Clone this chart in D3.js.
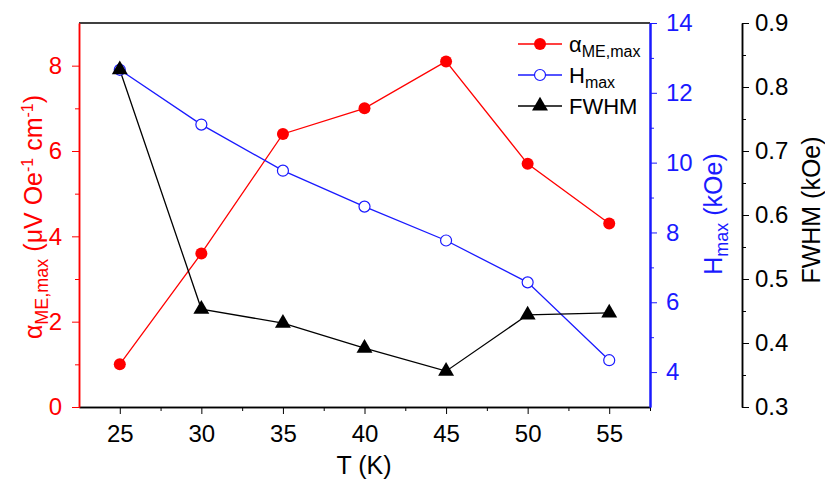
<!DOCTYPE html>
<html>
<head>
<meta charset="utf-8">
<script src="https://cdn.jsdelivr.net/npm/d3@7"></script>
<style>
  body { margin: 0; background: #fff; }
  svg text { font-family: "Liberation Sans", Arial, sans-serif; }
</style>
</head>
<body>
<svg id="chart" width="825" height="488"></svg>
<script>
// data
var temps = [25, 30, 35, 40, 45, 50, 55];
var alphaMax = [1.0, 3.6, 6.4, 7.0, 8.1, 5.7, 4.3];
var hMax = [12.66, 11.09, 9.77, 8.74, 7.77, 6.57, 4.34];
var fwhm = [0.827, 0.453, 0.431, 0.392, 0.356, 0.444, 0.447];

var xTicks = [25, 30, 35, 40, 45, 50, 55];
var alphaTicks = [0, 2, 4, 6, 8];
var hTicks = [4, 6, 8, 10, 12, 14];
var fwhmTicks = [0.3, 0.4, 0.5, 0.6, 0.7, 0.8, 0.9];

var red = "#ff0000", blue = "#1a1aff";
// plot box (note: "top" is reserved on window)
var pLeft = 79, pRight = 650, pTop = 23, pBottom = 407;
var fwhmX = 742;
var fs = 24;      // tick labels
var fsTitle = 25; // axis titles
var fsLeg = 22;

var svg = d3.select("#chart");

var x = d3.scaleLinear().domain([22.5, 57.5]).range([pLeft, pRight]);
var yA = d3.scaleLinear().domain([0, 9]).range([pBottom, pTop]);
var yH = d3.scaleLinear().domain([3, 14]).range([pBottom, pTop]);
var yF = d3.scaleLinear().domain([0.3, 0.9]).range([pBottom, pTop]);

// minor ticks helper
function minorAxis(axis, scale, vals) {
  return axis(scale).tickValues(vals).tickSize(4).tickSizeOuter(0).tickFormat("");
}
function majorAxis(axis, scale, vals) {
  return axis(scale).tickValues(vals).tickSize(7).tickSizeOuter(0);
}

// top frame line
svg.append("line")
  .attr("x1", pLeft).attr("x2", pRight).attr("y1", pTop).attr("y2", pTop)
  .attr("stroke", "#000").attr("stroke-width", 1.5);

// x axis
var gx = svg.append("g").attr("transform", "translate(0," + pBottom + ")");
gx.call(minorAxis(d3.axisBottom, x, [27.5, 32.5, 37.5, 42.5, 47.5, 52.5, 57.5]));
gx.append("g").call(majorAxis(d3.axisBottom, x, xTicks).tickPadding(11));
gx.selectAll(".domain").attr("stroke-width", 1.5);
gx.selectAll("text").attr("font-size", fs).attr("fill", "#000");

// left axis (red)
var gA = svg.append("g").attr("transform", "translate(" + pLeft + ",0)");
gA.call(minorAxis(d3.axisLeft, yA, [1, 3, 5, 7]));
gA.append("g").call(majorAxis(d3.axisLeft, yA, alphaTicks).tickPadding(10));
gA.selectAll("path, line").attr("stroke", red);
gA.selectAll(".domain").attr("stroke-width", 1.5);
gA.selectAll("text").attr("font-size", fs).attr("fill", red);

// right axis (blue)
var gH = svg.append("g").attr("transform", "translate(" + pRight + ",0)");
gH.call(minorAxis(d3.axisRight, yH, [5, 7, 9, 11, 13]));
gH.append("g").call(majorAxis(d3.axisRight, yH, hTicks).tickPadding(9));
gH.selectAll("path, line").attr("stroke", blue);
gH.selectAll(".domain").attr("stroke-width", 2);
gH.selectAll("text").attr("font-size", fs).attr("fill", blue);

// offset right axis (FWHM)
var gF = svg.append("g").attr("transform", "translate(" + fwhmX + ",0)");
gF.call(minorAxis(d3.axisRight, yF, [0.35, 0.45, 0.55, 0.65, 0.75, 0.85]));
gF.append("g").call(majorAxis(d3.axisRight, yF, fwhmTicks).tickPadding(6).tickFormat(d3.format(".1f")));
gF.selectAll("path, line").attr("stroke", "#000");
gF.selectAll(".domain").attr("stroke-width", 1.5);
gF.selectAll("text").attr("font-size", fs).attr("fill", "#000");

// axis titles
svg.append("text")
  .attr("x", 364).attr("y", 474)
  .attr("text-anchor", "middle").attr("font-size", fsTitle)
  .text("T (K)");

var tA = svg.append("text")
  .attr("transform", "translate(42,217) rotate(-90)")
  .attr("text-anchor", "middle").attr("font-size", fsTitle).attr("fill", red);
tA.append("tspan").text("α");
tA.append("tspan").attr("font-size", 18).attr("dy", 6).text("ME,max");
tA.append("tspan").attr("dy", -6).text(" (μV Oe");
tA.append("tspan").attr("font-size", 16).attr("dy", -9).text("-1");
tA.append("tspan").attr("dy", 9).text(" cm");
tA.append("tspan").attr("font-size", 16).attr("dy", -9).text("-1");
tA.append("tspan").attr("dy", 9).text(")");

var tH = svg.append("text")
  .attr("transform", "translate(722,214) rotate(-90)")
  .attr("text-anchor", "middle").attr("font-size", fsTitle).attr("fill", blue);
tH.append("tspan").text("H");
tH.append("tspan").attr("font-size", 18).attr("dy", 6).text("max");
tH.append("tspan").attr("dy", -6).text(" (kOe)");

svg.append("text")
  .attr("transform", "translate(820,210) rotate(-90)")
  .attr("text-anchor", "middle").attr("font-size", fsTitle)
  .text("FWHM (kOe)");

// series
var series = [
  {vals: alphaMax, y: yA, color: red, marker: "dot"},
  {vals: hMax, y: yH, color: blue, marker: "open"},
  {vals: fwhm, y: yF, color: "#000", marker: "tri"}
];

function drawMarker(g, m, color) {
  if (m === "tri") {
    g.append("path").attr("d", d3.symbol().type(d3.symbolTriangle).size(110)())
      .attr("fill", color);
  } else {
    g.append("circle").attr("r", m === "open" ? 5.5 : 6)
      .attr("fill", m === "open" ? "#fff" : color)
      .attr("stroke", color).attr("stroke-width", m === "open" ? 1.2 : 0);
  }
}

series.forEach(function(s) {
  var line = d3.line().x(function(d, i) { return x(temps[i]); }).y(function(d) { return s.y(d); });
  svg.append("path").datum(s.vals)
    .attr("d", line).attr("fill", "none")
    .attr("stroke", s.color).attr("stroke-width", 1.3);
});
series.forEach(function(s) {
  s.vals.forEach(function(v, i) {
    var g = svg.append("g").attr("transform", "translate(" + x(temps[i]) + "," + s.y(v) + ")");
    drawMarker(g, s.marker, s.color);
  });
});

// legend
var legRows = [
  {marker: "dot", color: red, main: "α", sub: "ME,max"},
  {marker: "open", color: blue, main: "H", sub: "max"},
  {marker: "tri", color: "#000", main: "FWHM", sub: ""}
];
legRows.forEach(function(r, i) {
  var yy = 44 + i * 31;
  svg.append("line").attr("x1", 518).attr("x2", 562).attr("y1", yy).attr("y2", yy)
    .attr("stroke", r.color).attr("stroke-width", 1.3);
  var g = svg.append("g").attr("transform", "translate(540," + yy + ")");
  drawMarker(g, r.marker, r.color);
  var t = svg.append("text").attr("x", 569).attr("y", yy + 8).attr("font-size", fsLeg);
  t.append("tspan").text(r.main);
  if (r.sub) t.append("tspan").attr("font-size", 16).attr("dy", 5).text(r.sub);
});
</script>
</body>
</html>
